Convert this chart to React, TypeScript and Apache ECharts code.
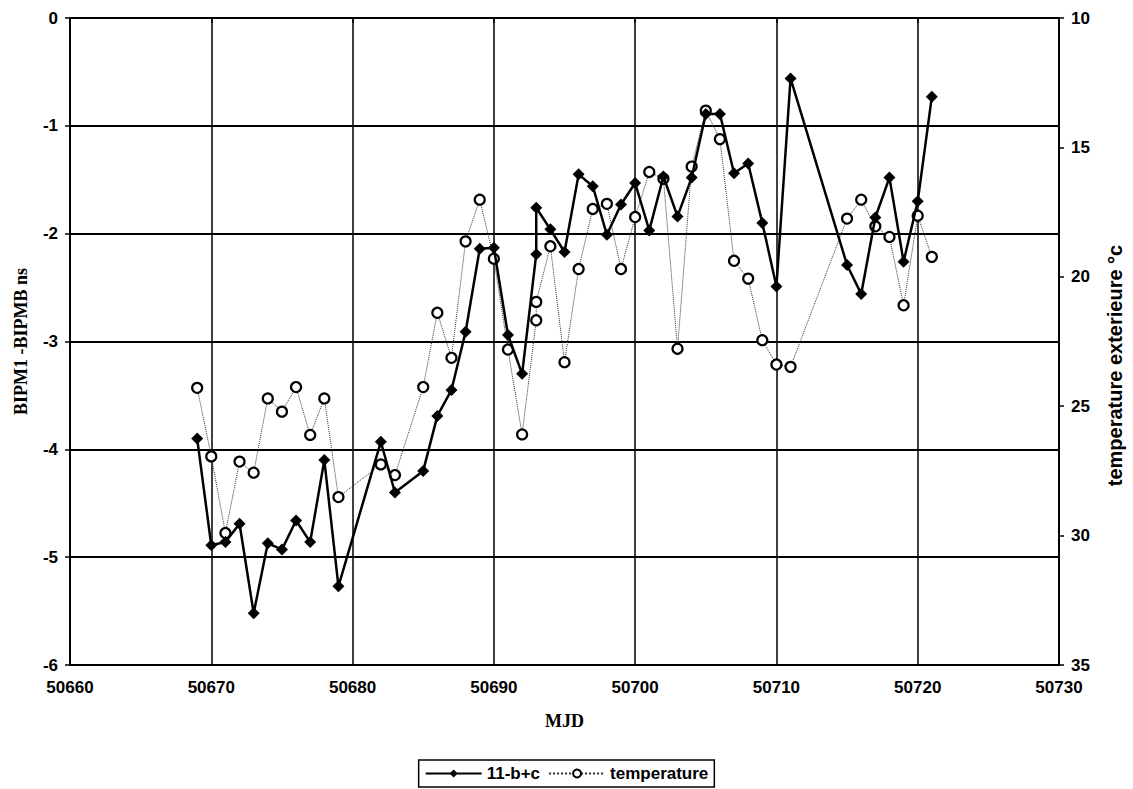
import React, { useEffect, useRef } from "react";
import * as echarts from "echarts";

const mjd = [
  50669, 50670, 50671, 50672, 50673, 50674, 50675, 50676, 50677, 50678, 50679,
  50682, 50683, 50685, 50686, 50687, 50688, 50689, 50690, 50691, 50692, 50693,
  50693, 50694, 50695, 50696, 50697, 50698, 50699, 50700, 50701, 50702, 50703,
  50704, 50705, 50706, 50707, 50708, 50709, 50710, 50711, 50715, 50716, 50717,
  50718, 50719, 50720, 50721,
];

const offsetNs = [
  -3.9, -4.89, -4.86, -4.69, -5.52, -4.87, -4.93, -4.66, -4.86, -4.1, -5.27,
  -3.93, -4.4, -4.2, -3.69, -3.45, -2.91, -2.14, -2.13, -2.94, -3.3, -2.19,
  -1.76, -1.96, -2.17, -1.45, -1.56, -2.01, -1.73, -1.53, -1.97, -1.47, -1.84,
  -1.48, -0.89, -0.89, -1.44, -1.35, -1.9, -2.49, -0.56, -2.29, -2.56, -1.85,
  -1.48, -2.26, -1.7, -0.73,
];

const temperature = [
  24.29, 26.94, 29.9, 27.14, 27.57, 24.7, 25.21, 24.26, 26.11, 24.7, 28.51,
  27.25, 27.66, 24.26, 21.39, 23.13, 18.63, 17.02, 19.3, 22.81, 26.09, 21.68,
  20.97, 18.82, 23.3, 19.7, 17.38, 17.18, 19.7, 17.69, 15.95, 16.21, 22.78,
  15.74, 13.58, 14.68, 19.38, 20.07, 22.45, 23.39, 23.48, 17.75, 17.02, 18.05,
  18.46, 21.1, 17.64, 19.23,
];

const seriesNames = ["11-b+c", "temperature"];
const xTitle = "MJD";
const leftTitle = "BIPM1 -BIPMB ns";
const rightTitle = "temperature exterieure °c";

const labelFont = {
  color: "#000",
  fontFamily: "Liberation Sans, Arial, sans-serif",
  fontWeight: "bold" as const,
  fontSize: 17,
};

export default function App() {
  const ref = useRef<HTMLDivElement>(null);

  useEffect(() => {
    if (!ref.current) return;
    const chart = echarts.init(ref.current, undefined, { renderer: "svg" });
    chart.setOption({
      animation: false,
      backgroundColor: "#fff",
      grid: { left: 70, right: 70, top: 18, bottom: 124, containLabel: false },
      legend: {
        bottom: 2,
        left: "center",
        data: seriesNames,
        itemWidth: 56,
        itemHeight: 10,
        itemGap: 8,
        padding: [5, 6, 5, 6],
        borderColor: "#000",
        borderWidth: 1.5,
        textStyle: { ...labelFont, fontSize: 17 },
      },
      xAxis: {
        type: "value",
        min: 50660,
        max: 50730,
        interval: 10,
        name: xTitle,
        nameLocation: "middle",
        nameGap: 47,
        nameTextStyle: {
          color: "#000",
          fontFamily: "Liberation Serif, Times New Roman, serif",
          fontWeight: "bold",
          fontSize: 18,
        },
        axisLine: { show: true, lineStyle: { color: "#000", width: 2 } },
        axisTick: { show: true, length: 5, lineStyle: { color: "#000", width: 1.5 } },
        axisLabel: { ...labelFont, margin: 14, formatter: (v: number) => String(v) },
        splitLine: { show: true, lineStyle: { color: "#000", width: 1.5 } },
      },
      yAxis: [
        {
          type: "value",
          min: -6,
          max: 0,
          interval: 1,
          position: "left",
          name: leftTitle,
          nameLocation: "middle",
          nameRotate: 90,
          nameGap: 40,
          nameTextStyle: {
            color: "#000",
            fontFamily: "Liberation Serif, Times New Roman, serif",
            fontWeight: "bold",
            fontSize: 18,
          },
          axisLine: { show: true, lineStyle: { color: "#000", width: 2 } },
          axisTick: { show: true, length: 5, lineStyle: { color: "#000", width: 1.5 } },
          axisLabel: { ...labelFont, margin: 12 },
          splitLine: { show: true, lineStyle: { color: "#000", width: 2 } },
        },
        {
          type: "value",
          min: 10,
          max: 35,
          interval: 5,
          inverse: true,
          position: "right",
          name: rightTitle,
          nameLocation: "middle",
          nameRotate: 90,
          nameGap: 46,
          nameTextStyle: {
            color: "#000",
            fontFamily: "Liberation Sans, Arial, sans-serif",
            fontWeight: "bold",
            fontSize: 20,
            padding: [0, 48, 0, 0],
          },
          axisLine: { show: true, lineStyle: { color: "#000", width: 2 } },
          axisTick: { show: true, length: 5, lineStyle: { color: "#000", width: 1.5 } },
          axisLabel: { ...labelFont, margin: 12 },
          splitLine: { show: false },
        },
      ],
      series: [
        {
          name: seriesNames[1],
          type: "line",
          yAxisIndex: 1,
          data: mjd.map((x, i) => [x, temperature[i]]),
          symbol: "circle",
          symbolSize: 10,
          showSymbol: true,
          lineStyle: { color: "#333", width: 1, type: "dotted" },
          itemStyle: { color: "#fff", borderColor: "#000", borderWidth: 2.2 },
          z: 2,
        },
        {
          name: seriesNames[0],
          type: "line",
          yAxisIndex: 0,
          data: mjd.map((x, i) => [x, offsetNs[i]]),
          symbol: "diamond",
          symbolSize: 12,
          showSymbol: true,
          lineStyle: { color: "#000", width: 2.5, type: "solid" },
          itemStyle: { color: "#000" },
          z: 3,
        },
      ],
    });
    return () => chart.dispose();
  }, []);

  return (
    <div
      ref={ref}
      style={{ position: "absolute", left: 0, top: 0, width: 1133, height: 789 }}
    />
  );
}
